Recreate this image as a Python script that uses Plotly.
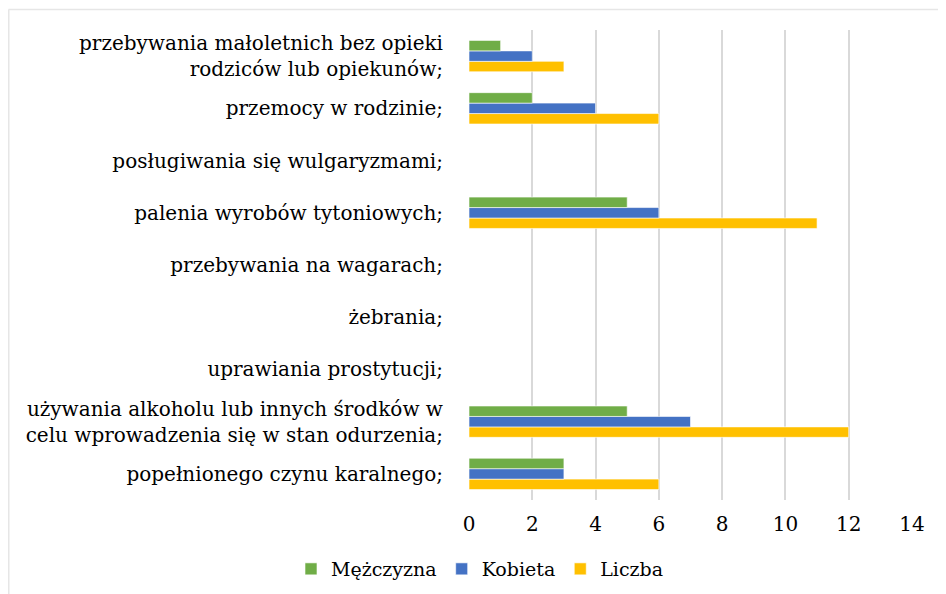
import plotly.graph_objects as go

categories = [
    "przebywania małoletnich bez opieki<br>rodziców lub opiekunów;",
    "przemocy w rodzinie;",
    "posługiwania się wulgaryzmami;",
    "palenia wyrobów tytoniowych;",
    "przebywania na wagarach;",
    "żebrania;",
    "uprawiania prostytucji;",
    "używania alkoholu lub innych środków w<br>celu wprowadzenia się w stan odurzenia;",
    "popełnionego czynu karalnego;",
]
mezczyzna = [1, 2, 0, 5, 0, 0, 0, 5, 3]
kobieta = [2, 4, 0, 6, 0, 0, 0, 7, 3]
liczba = [3, 6, 0, 11, 0, 0, 0, 12, 6]
x_ticks = [0, 2, 4, 6, 8, 10, 12, 14]

FONT = "DejaVu Serif"
cats = categories[::-1]

fig = go.Figure()
for name, vals, color in [
    ("Liczba", liczba, "#FFC000"),
    ("Kobieta", kobieta, "#4472C4"),
    ("Mężczyzna", mezczyzna, "#70AD47"),
]:
    fig.add_trace(go.Bar(
        y=cats, x=vals[::-1], name=name, orientation="h",
        marker=dict(color=color, line=dict(color="white", width=0.6)),
    ))

# page body has an 8px offset; figure coords = page coords - 8
W, H = 938, 586
L, T = 461, 22
pw, ph = 443, 470
R, B = W - L - pw, H - T - ph

fig.update_layout(
    width=W, height=H,
    margin=dict(l=L, r=R, t=T, b=B, autoexpand=False),
    barmode="group", bargap=0.4, bargroupgap=0,
    plot_bgcolor="white", paper_bgcolor="white",
    font=dict(family=FONT, size=20, color="#000000"),
    legend=dict(orientation="h", traceorder="reversed",
                xref="paper", x=(472 - L) / pw, xanchor="center",
                yref="container", y=1 - 561 / H, yanchor="middle",
                font=dict(family=FONT, size=19), itemwidth=30),
    xaxis=dict(range=[0, 14], tickvals=x_ticks, showgrid=True, gridcolor="#D9D9D9",
               gridwidth=1.5, zeroline=False, showline=False, ticks="",
               ticklabelstandoff=10, tickfont=dict(size=20), automargin=False),
    yaxis=dict(showgrid=False, zeroline=False, showline=False, ticks="",
               ticklabelstandoff=25, tickfont=dict(size=20), automargin=False),
    shapes=[
        dict(type="line", xref="paper", yref="paper",
             x0=(0.5 - L) / pw, x1=(W - L) / pw, y0=1 + (T - 1.5) / ph, y1=1 + (T - 1.5) / ph,
             line=dict(color="#E6E6E6", width=1.5)),
        dict(type="line", xref="paper", yref="paper",
             x0=(0.75 - L) / pw, x1=(0.75 - L) / pw, y0=1 + (T - 1.5) / ph, y1=-(H - T - ph) / ph,
             line=dict(color="#E6E6E6", width=1.5)),
    ],
)
fig.write_html("out.html")
